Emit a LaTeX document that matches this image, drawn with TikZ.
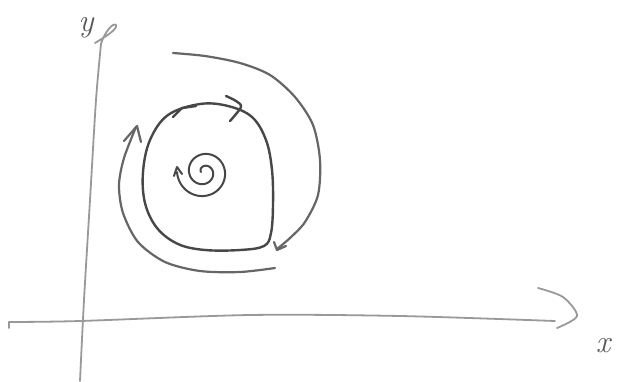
\documentclass[tikz,border=0pt]{standalone}
\begin{document}
\begin{tikzpicture}[x=1pt,y=-1pt,
  axisline/.style={draw=black!40, line width=1.8pt, line cap=round, line join=round},
  cyc/.style={draw=black!72, line width=2.4pt, line cap=round, line join=round},
  orbit/.style={draw=black!60, line width=2.2pt, line cap=round, line join=round},
  lbl/.style={text=black!65, font=\fontsize{32}{32}\selectfont\itshape, inner sep=0pt, anchor=base}]
\useasboundingbox (0,0) rectangle (621,381);
\fill[white] (0,0) rectangle (621,381);
% y axis
\draw[axisline] plot[smooth] coordinates {(101,44) (96,100) (90,200) (84,300) (80,381)};
\draw[axisline] (95,43) .. controls (105,37) and (118,29) .. (116,25) .. controls (113,22) and (104,33) .. (101,44);
% x axis
\draw[axisline] (9,328) -- (9,322);
\draw[axisline] plot[smooth] coordinates {(9,322) (80,321) (250,315) (400,316) (555,321)};
\draw[axisline] plot[smooth] coordinates {(538,288) (563,297) (577,316) (557,328)};
% labels
\node[lbl] (ylab) at (86,31) {y};
\node[lbl] (xlab) at (603,352) {x};
% limit cycle
\draw[cyc] plot[smooth cycle, tension=0.6] coordinates {(200,104) (228,106) (252,117) (266,140) (272,170) (273,205) (271,233) (264,246) (240,250) (205,250) (178,244) (157,228) (145,203) (143,172) (150,140) (168,115)};
\draw[cyc] plot[smooth] coordinates {(226,96) (236,101) (241,107) (230,121)};
\draw[cyc] (173,117) -- (182,108) -- (196,106);
% outer orbit (from outside, clockwise)
\draw[orbit] plot[smooth] coordinates {(173,53) (205,56) (240,63) (270,75) (295,97) (313,125) (320,160) (318,195) (305,222) (290,238) (277,249)};
\draw[orbit] (274,242) -- (277,250) -- (286,246);
% inner-left orbit (from inside, going up)
\draw[orbit] plot[smooth] coordinates {(275,268) (240,272) (200,271) (165,262) (138,242) (123,213) (119,185) (124,158) (136,127)};
\draw[orbit] (124,141) -- (137,126) -- (141,142);
% spiral
\draw[cyc, line width=2pt] plot[smooth, domain=180:900, samples=120, variable=\a]
  ({204+(3+12*(\a-180)/360)*cos(\a)}, {172+(3+12*(\a-180)/360)*sin(\a)});
\draw[cyc, line width=2pt] (174,176) -- (177,167) -- (182,174);
\end{tikzpicture}
\end{document}
